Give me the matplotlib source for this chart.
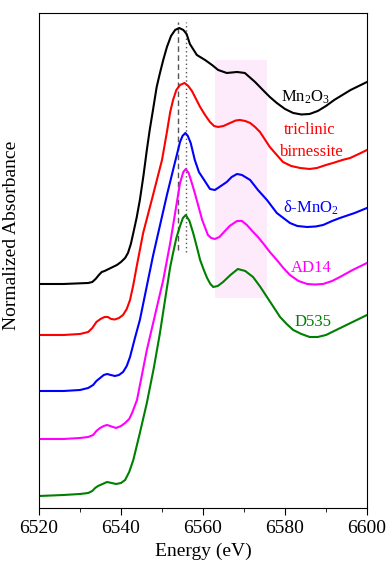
import matplotlib.pyplot as plt
from matplotlib.ticker import MultipleLocator
from matplotlib.patches import Rectangle

plt.rcParams['font.family'] = ['Liberation Serif', 'DejaVu Serif']
plt.rcParams['mathtext.fontset'] = 'custom'
plt.rcParams['mathtext.rm'] = 'Liberation Serif'
plt.rcParams['mathtext.it'] = 'Liberation Serif:italic'

# curvas (energia en eV, absorbancia normalizada + desplazamiento)
e_mn2o3 = [6520, 6526, 6532, 6533, 6533.8, 6534.6, 6535.3, 6536, 6537, 6538, 6539,
           6540, 6541, 6541.7, 6542.4, 6543, 6543.8, 6544.6, 6545.5, 6546.3, 6547,
           6547.8, 6548.7, 6549.5, 6550.3, 6551.2, 6552.2, 6553.2, 6554.2, 6555.2,
           6556, 6556.8, 6558.5, 6560.5, 6562.2, 6563.7, 6565.8, 6568.3, 6570.2,
           6572.7, 6574.6, 6576.3, 6578, 6580, 6582, 6584, 6586, 6588, 6590, 6592,
           6594, 6596, 6598, 6600]
a_mn2o3 = [2.24, 2.24, 2.25, 2.26, 2.29, 2.33, 2.36, 2.37, 2.39, 2.41, 2.43,
           2.46, 2.50, 2.55, 2.64, 2.75, 2.90, 3.08, 3.33, 3.58, 3.78,
           3.98, 4.21, 4.35, 4.48, 4.61, 4.72, 4.78, 4.80, 4.78,
           4.74, 4.64, 4.53, 4.48, 4.43, 4.38, 4.35, 4.36, 4.35,
           4.26, 4.18, 4.11, 4.05, 3.99, 3.95, 3.935, 3.94, 3.97, 4.02, 4.08,
           4.13, 4.18, 4.22, 4.26]

e_tric = [6520, 6526, 6530, 6532, 6533, 6534, 6535, 6536, 6536.8, 6537.6, 6538.5,
          6539.5, 6540.5, 6541.4, 6542.2, 6543, 6543.8, 6545.4, 6547.5, 6550,
          6551.2, 6552, 6552.7, 6553.5, 6554.4, 6555.5, 6556.4, 6557.3, 6558.3,
          6559.3, 6560.5, 6561.7, 6562.7, 6563.7, 6565, 6566.6, 6568, 6569, 6570.3,
          6571.5, 6572.7, 6573.9, 6576.3, 6578, 6579.5, 6581.5, 6583.7, 6586,
          6587.8, 6590, 6591.7, 6594, 6595.9, 6598, 6600]
a_tric = [1.73, 1.73, 1.74, 1.76, 1.80, 1.86, 1.89, 1.91, 1.91, 1.89, 1.885,
          1.90, 1.93, 1.99, 2.08, 2.23, 2.41, 2.75, 3.08, 3.48,
          3.76, 3.96, 4.08, 4.18, 4.23, 4.25, 4.22, 4.17, 4.09,
          4.01, 3.93, 3.86, 3.82, 3.81, 3.82, 3.85, 3.875, 3.88, 3.87,
          3.85, 3.81, 3.76, 3.61, 3.53, 3.46, 3.42, 3.40, 3.39,
          3.40, 3.43, 3.45, 3.48, 3.50, 3.54, 3.58]

e_dmno2 = [6520, 6526, 6530, 6532, 6533.2, 6534, 6534.9, 6535.8, 6536.6, 6537.5,
           6538.5, 6539.5, 6540.5, 6541.4, 6542.2, 6543.4, 6544.6, 6547.8, 6551.2,
           6553, 6554.4, 6555, 6555.7, 6556.3, 6557, 6558, 6559, 6559.8, 6561.7,
           6562.9, 6564, 6565.8, 6567, 6568.3, 6569.5, 6571.5, 6573.4, 6575.6, 6578,
           6581.2, 6583, 6585.4, 6587.5, 6589.3, 6591.5, 6593.4, 6597, 6600]
a_dmno2 = [1.17, 1.17, 1.18, 1.20, 1.23, 1.27, 1.30, 1.33, 1.34, 1.33,
           1.32, 1.33, 1.36, 1.42, 1.51, 1.70, 1.88, 2.52, 3.13,
           3.43, 3.66, 3.72, 3.75, 3.72, 3.65, 3.48, 3.36, 3.31, 3.19,
           3.18, 3.21, 3.26, 3.31, 3.34, 3.33, 3.28, 3.18, 3.08, 2.95,
           2.85, 2.82, 2.81, 2.815, 2.83, 2.87, 2.90, 2.95, 3.00]

e_ad14 = [6520, 6526, 6530, 6532, 6533.2, 6534, 6534.9, 6535.8, 6536.6, 6537.7,
          6538.8, 6540, 6541, 6542, 6542.7, 6543.9, 6546.3, 6548.3, 6550.3, 6552,
          6553.2, 6554.4, 6555.2, 6555.8, 6556.5, 6557.2, 6558, 6559, 6559.8,
          6561.2, 6562, 6562.9, 6564, 6564.9, 6566.5, 6568.3, 6569.5, 6570.7,
          6572, 6573.4, 6574.6, 6576.3, 6578, 6579.6, 6581.2, 6583.3, 6585.4,
          6587.3, 6589.3, 6591.5, 6593.4, 6596.5, 6600]
a_ad14 = [0.69, 0.69, 0.70, 0.71, 0.73, 0.77, 0.80, 0.82, 0.83, 0.815,
          0.80, 0.82, 0.85, 0.89, 0.95, 1.08, 1.58, 1.93, 2.28, 2.65,
          2.95, 3.25, 3.36, 3.39, 3.35, 3.26, 3.15, 3.00, 2.88,
          2.73, 2.70, 2.69, 2.71, 2.75, 2.82, 2.87, 2.87, 2.83,
          2.77, 2.71, 2.65, 2.56, 2.48, 2.40, 2.33, 2.27, 2.24,
          2.235, 2.24, 2.27, 2.31, 2.38, 2.45]

e_d535 = [6520, 6526, 6530, 6532, 6533, 6533.7, 6534.4, 6535.5, 6536.6, 6537.7,
          6538.8, 6540, 6541, 6542, 6543, 6544.6, 6546.3, 6548, 6549.5, 6551,
          6552, 6552.7, 6553.5, 6554.4, 6555.1, 6555.8, 6556.7, 6557.6, 6558.5,
          6559.3, 6560.2, 6561, 6561.8, 6562.5, 6563.6, 6564.9, 6566.7, 6568.5,
          6570.3, 6572.2, 6574, 6575.6, 6577.2, 6578.8, 6580.4, 6582, 6584, 6586,
          6588, 6590, 6592.5, 6595, 6597.5, 6600]
a_d535 = [0.12, 0.13, 0.14, 0.15, 0.17, 0.20, 0.22, 0.24, 0.26, 0.25,
          0.24, 0.25, 0.28, 0.36, 0.48, 0.75, 1.05, 1.40, 1.75, 2.15,
          2.41, 2.55, 2.70, 2.82, 2.90, 2.93, 2.87, 2.75, 2.61,
          2.48, 2.38, 2.30, 2.24, 2.21, 2.22, 2.26, 2.33, 2.39,
          2.37, 2.31, 2.21, 2.11, 2.01, 1.91, 1.84, 1.78, 1.74, 1.71,
          1.71, 1.73, 1.78, 1.83, 1.88, 1.93]

muestras = [
    (e_mn2o3, a_mn2o3, 'black', 'Mn$_2$O$_3$', 6584.9, 4.11),
    (e_tric, a_tric, 'red', 'triclinic', 6586.1, 3.78),
    (e_dmno2, a_dmno2, 'blue', '\u03b4-MnO$_2$', 6586.3, 3.00),
    (e_ad14, a_ad14, 'magenta', 'AD14', 6586.3, 2.40),
    (e_d535, a_d535, 'green', 'D535', 6586.8, 1.86),
]

fig = plt.figure(figsize=(3.87, 5.62), dpi=100)
ax = fig.add_axes([0.1008, 0.0961, 0.8475, 0.8808])

# zona sombreada rosa
ax.add_patch(Rectangle((6563, 2.10), 12.6, 2.38, facecolor='#fdeafa',
                       edgecolor='none', zorder=0))

# lineas verticales
ax.plot([6553.9, 6553.9], [2.58, 4.86], color='#555555', ls=(0, (4, 2.5)), lw=1.0)
ax.plot([6555.8, 6555.8], [2.56, 4.86], color='#555555', ls=(0, (1, 2)), lw=1.0)

for e, a, c, nombre, xt, yt in muestras:
    ax.plot(e, a, color=c, lw=1.5, solid_joinstyle='round')
    ax.text(xt, yt, nombre, color=c, fontsize=12, ha='center', va='center')
ax.text(6586.6, 3.56, 'birnessite', color='red', fontsize=12, ha='center', va='center')

ax.set_xlim(6520, 6600)
ax.set_ylim(0, 4.95)
ax.xaxis.set_major_locator(MultipleLocator(20))
ax.xaxis.set_minor_locator(MultipleLocator(10))
ax.tick_params(axis='x', which='major', direction='out', length=5, labelsize=14, pad=4)
ax.tick_params(axis='x', which='minor', direction='out', length=3)
ax.set_yticks([])
ax.set_xlabel('Energy (eV)', fontsize=14, labelpad=4)
ax.set_ylabel('Normalized Absorbance', fontsize=14, labelpad=4)
ax.yaxis.set_label_coords(-0.058, 0.55)

fig.savefig('out.png', dpi=100)
